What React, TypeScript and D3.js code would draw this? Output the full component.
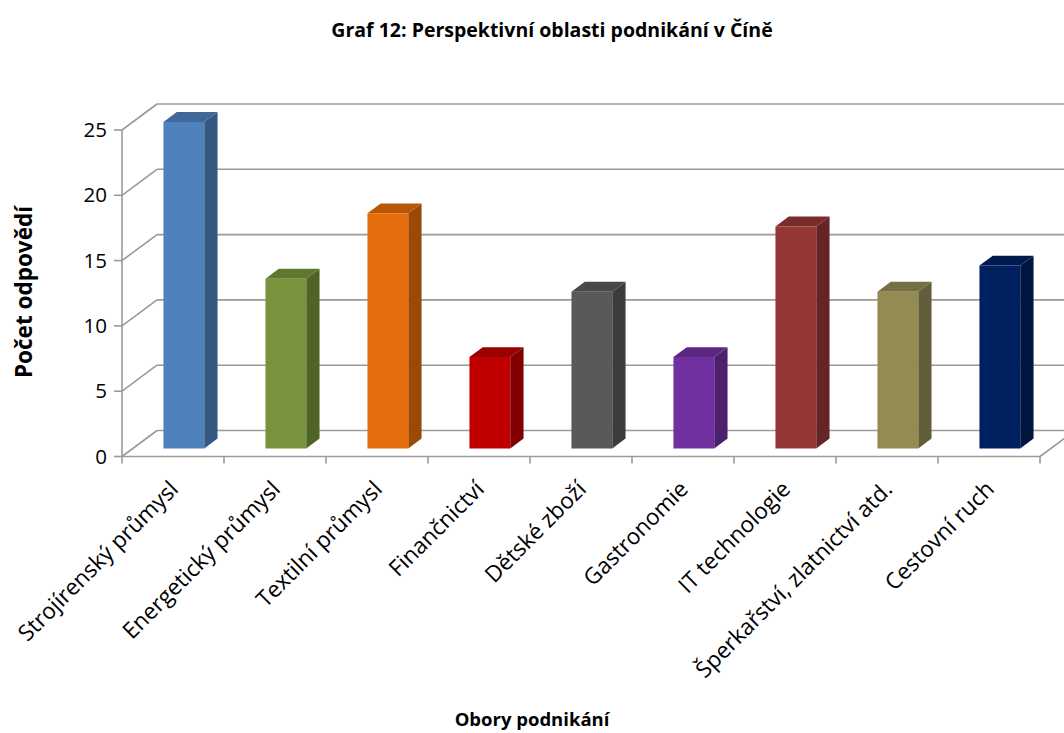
import React from "react";
import * as d3 from "d3";

const categories = [
  "Strojírenský průmysl",
  "Energetický průmysl",
  "Textilní průmysl",
  "Finančnictví",
  "Dětské zboží",
  "Gastronomie",
  "IT technologie",
  "Šperkařství, zlatnictví atd.",
  "Cestovní ruch",
];
const values = [25, 13, 18, 7, 12, 7, 17, 12, 14];
const barColors = [
  "#4F81BD",
  "#77933C",
  "#E46C0A",
  "#C00000",
  "#595959",
  "#7030A0",
  "#953735",
  "#948A54",
  "#002060",
];
const yTicks = [0, 5, 10, 15, 20, 25];

const title = "Graf 12: Perspektivní oblasti podnikání v Číně";
const xTitle = "Obory podnikání";
const yTitle = "Počet odpovědí";

const W = 1064;
const H = 733;
const FONT = "'Open Sans', 'Liberation Sans', sans-serif";

// oblique projection of the depth axis
const DX = 35;
const DY = -26;
const D0 = 0.31; // bar front depth fraction
const D1 = 0.69; // bar back depth fraction

export default function App() {
  const x = d3.scaleBand<string>().domain(categories).range([122, 1040]).padding(0);
  const y = d3.scaleLinear().domain([0, 25]).range([456.5, 130]);
  const bw = x.bandwidth() / 2.5;
  const left = 122;
  const right = 1040;
  const grid = "#9a9a9a";

  const pt = (px: number, py: number, d: number) => [px + DX * d, py + DY * d];
  const poly = (pts: number[][]) => pts.map((p) => p.join(",")).join(" ");

  return (
    <svg
      width={W}
      height={H}
      style={{ position: "absolute", left: 0, top: 0, background: "#fff", overflow: "hidden" }}
      fontFamily={FONT}
    >
      <text x={552} y={37} textAnchor="middle" fontSize={19.5} fontWeight="bold" fill="#000">
        {title}
      </text>

      {/* walls: back grid lines and left-wall diagonals */}
      {yTicks.map((t) => {
        const yy = y(t);
        return (
          <g key={t} stroke={grid} strokeWidth={1.6} fill="none">
            <line x1={left} y1={yy} x2={left + DX} y2={yy + DY} />
            <line x1={left + DX} y1={yy + DY} x2={right + DX} y2={yy + DY} />
          </g>
        );
      })}
      {/* floor */}
      <g stroke={grid} strokeWidth={1.6} fill="none">
        <line x1={right} y1={y(0)} x2={right + DX} y2={y(0) + DY} />
        <line x1={left} y1={y(0)} x2={right} y2={y(0)} />
        <line x1={left} y1={y(0)} x2={left} y2={y(25)} />
      </g>

      {/* y axis ticks and labels */}
      {yTicks.map((t) => (
        <g key={"yt" + t}>
          <line x1={114} x2={left} y1={y(t)} y2={y(t)} stroke={grid} strokeWidth={1.6} />
          <text x={107} y={y(t)} dy="0.35em" textAnchor="end" fontSize={20.5} fill="#000">
            {t}
          </text>
        </g>
      ))}

      {/* x axis ticks */}
      {d3.range(categories.length + 1).map((i) => {
        const xx = left + i * x.bandwidth();
        return <line key={"xt" + i} x1={xx} x2={xx} y1={y(0)} y2={y(0) + 7} stroke={grid} strokeWidth={1.6} />;
      })}

      {/* bars */}
      {categories.map((c, i) => {
        const cx = (x(c) as number) + x.bandwidth() / 2;
        const x0 = cx - bw / 2;
        const x1 = cx + bw / 2;
        const yv = y(values[i]);
        const yb = y(0);
        const base = d3.color(barColors[i])!;
        const top = base.darker(0.6).formatHex();
        const side = base.darker(1.1).formatHex();
        const front = [pt(x0, yv, D0), pt(x1, yv, D0), pt(x1, yb, D0), pt(x0, yb, D0)];
        const sideP = [pt(x1, yv, D0), pt(x1, yv, D1), pt(x1, yb, D1), pt(x1, yb, D0)];
        const topP = [pt(x0, yv, D0), pt(x0, yv, D1), pt(x1, yv, D1), pt(x1, yv, D0)];
        return (
          <g key={c}>
            <polygon points={poly(sideP)} fill={side} />
            <polygon points={poly(topP)} fill={top} />
            <polygon points={poly(front)} fill={barColors[i]} />
          </g>
        );
      })}

      {/* category labels */}
      {categories.map((c) => {
        const cx = (x(c) as number) + x.bandwidth() / 2;
        return (
          <text
            key={"l" + c}
            transform={`translate(${cx + 1},${485}) rotate(-45)`}
            textAnchor="end"
            dy="0.35em"
            fontSize={22.5}
            fill="#000"
          >
            {c}
          </text>
        );
      })}

      <text x={532} y={726} textAnchor="middle" fontSize={18.5} fontWeight="bold" fill="#000">
        {xTitle}
      </text>
      <text
        transform={`translate(32,292) rotate(-90)`}
        textAnchor="middle"
        fontSize={22.5}
        fontWeight="bold"
        fill="#000"
      >
        {yTitle}
      </text>
    </svg>
  );
}
